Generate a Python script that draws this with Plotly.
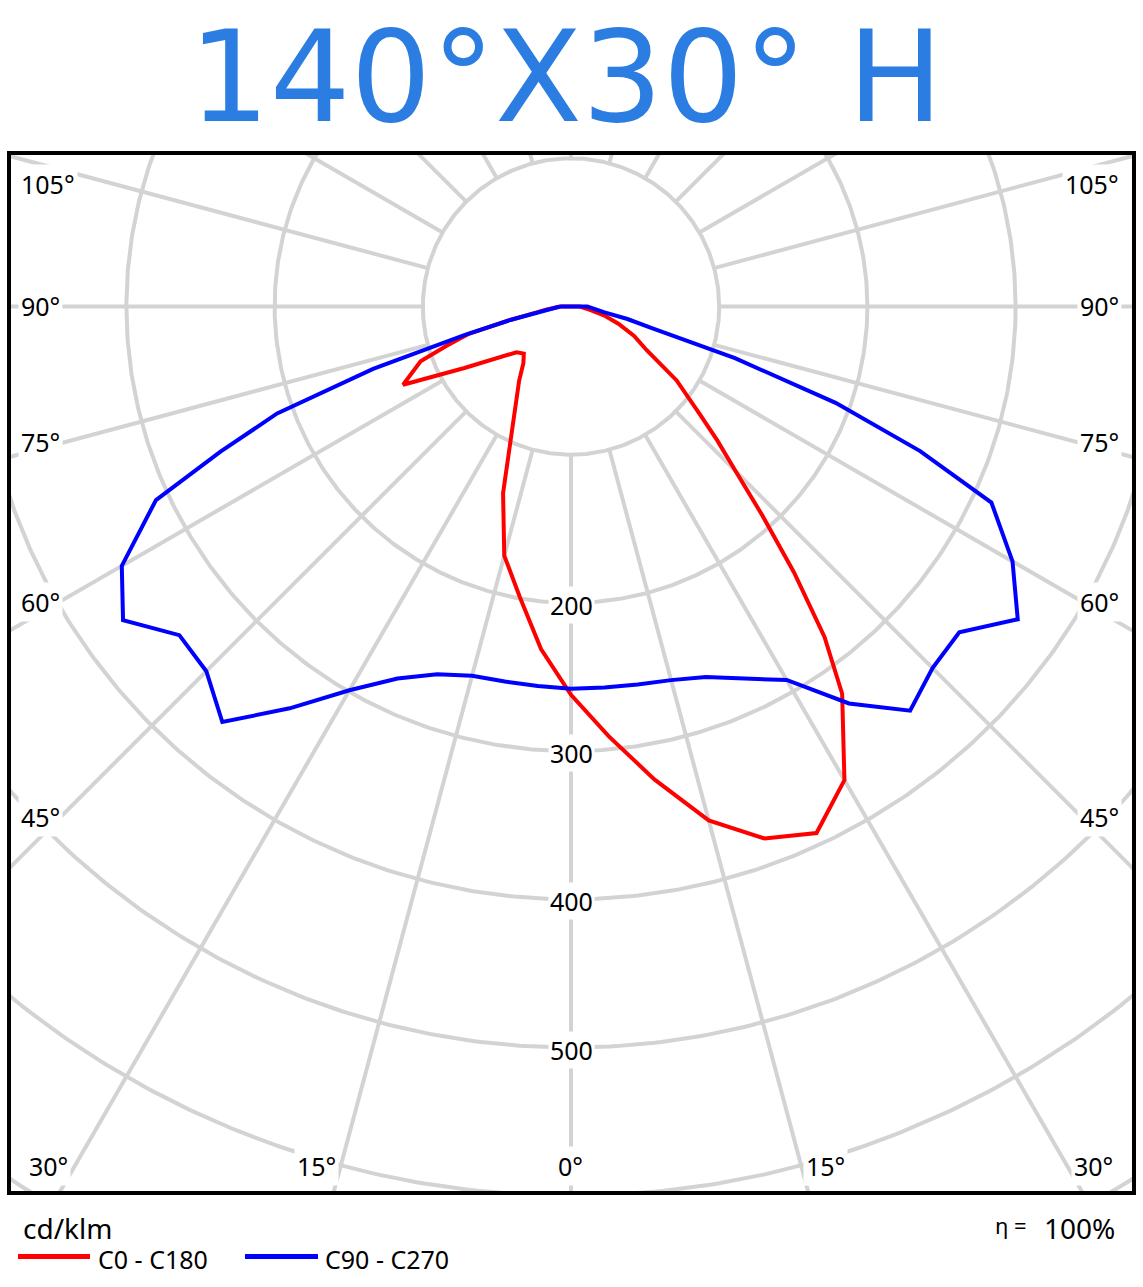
import numpy as np
import plotly.graph_objects as go

# ---------------- data (cd/klm) ----------------
# C0 - C180 plane (red): C0 drawn on the right, C180 on the left
ANG_C0 = [0, 5, 10, 15, 20, 25, 30, 35, 37.5, 40, 42.5, 45, 47.5, 50, 55, 60, 65, 70, 75, 80, 85, 90]
I_C0 = [262, 291, 324, 359, 382, 392, 369, 319, 281, 234, 191, 157, 134, 114, 87, 59, 47, 34, 23, 13, 8, 6]

ANG_C180 = [0, 5, 10, 15, 20, 25, 30, 35, 40, 45, 50, 55, 60, 65, 70, 72.5, 75, 77.5, 80, 82.5, 85, 87.5, 90]
I_C180 = [262, 232, 199, 174, 134, 97, 74, 61, 50, 45, 48, 60, 83, 125, 108, 88, 72, 42, 24, 17, 12, 9, 7]

# C90 - C270 plane (blue): C90 drawn on the right, C270 on the left
ANG_C90 = [0, 5, 10, 15, 20, 25, 30, 35, 40, 45, 50, 55, 60, 65, 67.5, 70, 72.5, 75, 77.5, 80, 82.5, 85, 87.5, 90]
I_C90 = [258, 258, 259, 261, 266, 277, 291, 327, 356, 345, 342, 368, 344, 313, 255, 190, 116, 56, 39, 23, 19, 16, 13, 11]
ANG_C270 = ANG_C90
I_C270 = [258, 257, 257, 258, 264, 277, 299, 331, 366, 348, 345, 369, 350, 309, 256, 211, 140, 75, 42, 25, 17, 12, 9, 7.5]

RING_VALUES = [100, 200, 300, 400, 500, 600, 700]
RING_LABELS = [200, 300, 400, 500]
SPOKE_ANGLES = list(range(-180, 181, 15))

SIDE_LABELS = ["105°", "90°", "75°", "60°", "45°"]
BOTTOM_LABELS = ["30°", "15°", "0°", "15°", "30°"]

TITLE = "140°X30° H"
UNIT = "cd/klm"
EFF_SYM = "η ="
EFF_VAL = "100%"
LEG_RED = "C0 - C180"
LEG_BLUE = "C90 - C270"

# ---------------- geometry / layout ----------------
W, H = 1143, 1287
PX_PER_UNIT = 1.482
CX, CY = 571, 306.5
L, R, T, B = 9, 1134, 153, 1193   # plot area (frame) in pixels

xr = [(L - CX) / PX_PER_UNIT, (R - CX) / PX_PER_UNIT]
yr = [(CY - B) / PX_PER_UNIT, (CY - T) / PX_PER_UNIT]


def px2paper(px, py):
    return (px - L) / (R - L), (B - py) / (B - T)


def to_xy(angles, values, side):
    a = np.radians(np.asarray(angles, dtype=float))
    v = np.asarray(values, dtype=float)
    return side * v * np.sin(a), -v * np.cos(a)


def closed_curve(ang_left, val_left, ang_right, val_right):
    xl, yl = to_xy(ang_left, val_left, -1)
    xrr, yrr = to_xy(ang_right, val_right, 1)
    x = np.concatenate([xl[::-1], xrr, xl[-1:]])
    y = np.concatenate([yl[::-1], yrr, yl[-1:]])
    return x, y


GRID = "#d3d3d3"
fig = go.Figure()

# rings
t = np.linspace(0, 2 * np.pi, 721)
gx, gy = [], []
for r in RING_VALUES:
    gx += list(r * np.cos(t)) + [None]
    gy += list(r * np.sin(t)) + [None]
fig.add_trace(go.Scatter(x=gx, y=gy, mode="lines", line=dict(color=GRID, width=4),
                         hoverinfo="skip", showlegend=False))

# spokes (from the inner ring outward)
sx, sy = [], []
for a in SPOKE_ANGLES:
    ar = np.radians(a)
    sx += [100 * np.sin(ar), 1200 * np.sin(ar), None]
    sy += [-100 * np.cos(ar), -1200 * np.cos(ar), None]
fig.add_trace(go.Scatter(x=sx, y=sy, mode="lines", line=dict(color=GRID, width=4),
                         hoverinfo="skip", showlegend=False))

# curves
rx, ry = closed_curve(ANG_C180, I_C180, ANG_C0, I_C0)
fig.add_trace(go.Scatter(x=rx, y=ry, mode="lines", name=LEG_RED,
                         line=dict(color="#ff0000", width=4), showlegend=False))
bx, by = closed_curve(ANG_C270, I_C270, ANG_C90, I_C90)
fig.add_trace(go.Scatter(x=bx, y=by, mode="lines", name=LEG_BLUE,
                         line=dict(color="#0000ff", width=4), showlegend=False))

annotations = []
LABEL_FONT = dict(family="Noto Sans", size=25, color="black")

# ring value labels along the 0° spoke
for v in RING_LABELS:
    annotations.append(dict(x=0, y=-v, xref="x", yref="y", text=str(v), showarrow=False,
                            font=LABEL_FONT, bgcolor="white", borderpad=1,
                            xanchor="center", yanchor="middle", yshift=-2))

left_pos = [(48, 184), (40, 306), (40, 442), (40, 602), (40, 817)]
right_pos = [(1092, 184), (1099, 306), (1099, 442), (1099, 602), (1099, 817)]
bottom_pos = [(48, 1166), (316, 1166), (570, 1166), (825, 1166), (1093, 1166)]
for txt, (px, py) in list(zip(SIDE_LABELS, left_pos)) + list(zip(SIDE_LABELS, right_pos)) + \
        list(zip(BOTTOM_LABELS, bottom_pos)):
    xp, yp = px2paper(px, py)
    annotations.append(dict(x=xp, y=yp, xref="paper", yref="paper", text=txt, showarrow=False,
                            font=LABEL_FONT, bgcolor="white", borderpad=2,
                            xanchor="center", yanchor="middle"))

# title
xp, yp = px2paper(566, 77)
annotations.append(dict(x=xp, y=yp, xref="paper", yref="paper", text=TITLE, showarrow=False,
                        font=dict(family="DejaVu Sans", size=127, color="#2b7de1"),
                        xanchor="center", yanchor="middle"))

# bottom texts
xp, yp = px2paper(21, 1228)
annotations.append(dict(x=xp, y=yp, xref="paper", yref="paper", text=UNIT, showarrow=False,
                        font=dict(family="Noto Sans", size=28, color="black"),
                        xanchor="left", yanchor="middle"))
xp, yp = px2paper(1117, 1228)
annotations.append(dict(x=xp, y=yp, xref="paper", yref="paper", text=EFF_VAL, showarrow=False,
                        font=dict(family="Noto Sans", size=28, color="black"),
                        xanchor="right", yanchor="middle"))
xp, yp = px2paper(1029, 1225)
annotations.append(dict(x=xp, y=yp, xref="paper", yref="paper", text=EFF_SYM, showarrow=False,
                        font=dict(family="Noto Sans", size=22, color="black"),
                        xanchor="right", yanchor="middle"))
xp, yp = px2paper(96, 1259)
annotations.append(dict(x=xp, y=yp, xref="paper", yref="paper", text=LEG_RED, showarrow=False,
                        font=dict(family="Noto Sans", size=25, color="black"),
                        xanchor="left", yanchor="middle"))
xp, yp = px2paper(323, 1259)
annotations.append(dict(x=xp, y=yp, xref="paper", yref="paper", text=LEG_BLUE, showarrow=False,
                        font=dict(family="Noto Sans", size=25, color="black"),
                        xanchor="left", yanchor="middle"))

shapes = [dict(type="rect", xref="paper", yref="paper", x0=0, x1=1, y0=0, y1=1,
               line=dict(color="black", width=4), layer="above")]
for (x0, x1, col) in [(18, 90, "#ff0000"), (245, 318, "#0000ff")]:
    p0 = px2paper(x0, 1256.5)
    p1 = px2paper(x1, 1256.5)
    shapes.append(dict(type="line", xref="paper", yref="paper", x0=p0[0], x1=p1[0],
                       y0=p0[1], y1=p1[1], line=dict(color=col, width=5)))

fig.update_layout(
    width=W, height=H, autosize=False,
    margin=dict(l=L, r=W - R, t=T, b=H - B, pad=0),
    paper_bgcolor="white", plot_bgcolor="white",
    xaxis=dict(range=xr, showgrid=False, zeroline=False, showticklabels=False,
               showline=False, ticks="", fixedrange=True),
    yaxis=dict(range=yr, showgrid=False, zeroline=False, showticklabels=False,
               showline=False, ticks="", fixedrange=True),
    annotations=annotations, shapes=shapes, showlegend=False,
)

fig.write_html("out.html")
